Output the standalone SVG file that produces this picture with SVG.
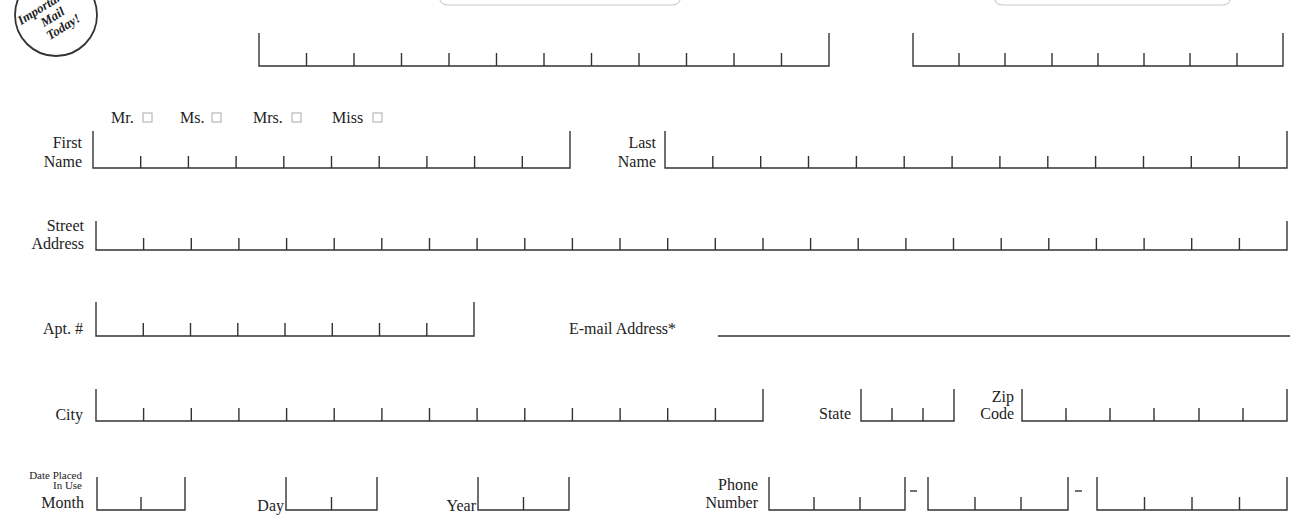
<svg xmlns="http://www.w3.org/2000/svg" width="1296" height="517" viewBox="0 0 1296 517">
<style>
.f{fill:none;stroke:#333;stroke-width:1.4}
.t{font-family:"Liberation Serif",serif;font-size:16px;fill:#222}
.s{font-family:"Liberation Serif",serif;font-size:11px;fill:#222}
.r{text-anchor:end}
.cb{fill:none;stroke:#aaa;stroke-width:1}
</style>
<rect width="1296" height="517" fill="#fff"/>
<g id="stamp">
<circle cx="56" cy="15" r="41" fill="#fff" stroke="#333" stroke-width="1.8"/>
<g transform="translate(52,20) rotate(-32)" font-family="Liberation Serif,serif" font-style="italic" font-weight="bold" font-size="13" text-anchor="middle" fill="#222">
<text x="-2" y="-12">Important</text><text x="2" y="2">Mail</text><text x="6" y="16">Today!</text>
</g>
</g>
<g id="tabs" fill="none" stroke="#ccc" stroke-width="1.2">
<path d="M440 0 Q441 5 448 5 L672 5 Q679 5 680 0"/>
<path d="M995 0 Q996 5 1003 5 L1222 5 Q1229 5 1230 0"/>
</g>
<g id="top1"><path class="f" d="M259 33V66H829V33M306.5 53V66M354 53V66M401.5 53V66M449 53V66M496.5 53V66M544 53V66M591.5 53V66M639 53V66M686.5 53V66M734 53V66M781.5 53V66"/></g>
<g id="top2"><path class="f" d="M913 33V66H1283V33M959 53V66M1005 53V66M1052 53V66M1098 53V66M1144 53V66M1190 53V66M1237 53V66"/></g>
<g id="title">
<text class="t" x="111" y="123" font-size="15">Mr.</text><rect class="cb" x="143" y="113" width="9" height="9"/>
<text class="t" x="180" y="123" font-size="15">Ms.</text><rect class="cb" x="212" y="113" width="9" height="9"/>
<text class="t" x="253" y="123" font-size="15">Mrs.</text><rect class="cb" x="292" y="113" width="9" height="9"/>
<text class="t" x="332" y="123" font-size="15">Miss</text><rect class="cb" x="373" y="113" width="9" height="9"/>
</g>
<g id="first"><text class="t r" x="82" y="148">First</text><text class="t r" x="82" y="167">Name</text>
<path class="f" d="M93 131V168H570V131M140.7 156V168M188.4 156V168M236.1 156V168M283.8 156V168M331.5 156V168M379.2 156V168M426.9 156V168M474.6 156V168M522.3 156V168"/></g>
<g id="last"><text class="t r" x="656" y="148">Last</text><text class="t r" x="656" y="167">Name</text>
<path class="f" d="M665 131V168H1287V131M712.8 156V168M760.7 156V168M808.5 156V168M856.4 156V168M904.2 156V168M952.1 156V168M999.9 156V168M1047.8 156V168M1095.6 156V168M1143.5 156V168M1191.3 156V168M1239.2 156V168"/></g>
<g id="street"><text class="t r" x="84" y="231">Street</text><text class="t r" x="84" y="249">Address</text>
<path class="f" d="M96 221V250H1287V221M143.6 238V250M191.3 238V250M238.9 238V250M286.6 238V250M334.2 238V250M381.8 238V250M429.5 238V250M477.1 238V250M524.8 238V250M572.4 238V250M620 238V250M667.7 238V250M715.3 238V250M763 238V250M810.6 238V250M858.2 238V250M905.9 238V250M953.5 238V250M1001.2 238V250M1048.8 238V250M1096.4 238V250M1144.1 238V250M1191.7 238V250M1239.4 238V250"/></g>
<g id="apt"><text class="t r" x="83" y="334">Apt. #</text>
<path class="f" d="M96 302V336H474V302M143.3 323V336M190.5 323V336M237.8 323V336M285 323V336M332.3 323V336M379.5 323V336M426.8 323V336"/></g>
<g id="email"><text class="t" x="569" y="334">E-mail Address*</text><path class="f" d="M718 336H1290"/></g>
<g id="city"><text class="t r" x="83" y="420">City</text>
<path class="f" d="M96 389V421H763V389M143.6 408V421M191.3 408V421M238.9 408V421M286.6 408V421M334.2 408V421M381.9 408V421M429.5 408V421M477.1 408V421M524.8 408V421M572.4 408V421M620.1 408V421M667.7 408V421M715.4 408V421"/></g>
<g id="state"><text class="t r" x="851" y="419">State</text>
<path class="f" d="M861 389V421H954V389M892 408V421M923 408V421"/></g>
<g id="zip"><text class="t r" x="1014" y="402">Zip</text><text class="t r" x="1014" y="419">Code</text>
<path class="f" d="M1022 389V421H1287V389M1066 408V421M1110 408V421M1154 408V421M1199 408V421M1243 408V421"/></g>
<g id="month"><text class="s r" x="82" y="479">Date Placed</text><text class="s r" x="82" y="489">In Use</text><text class="t r" x="84" y="508" font-size="17">Month</text>
<path class="f" d="M97 477V510H185V477M141 497V510"/></g>
<g id="day"><text class="t r" x="284" y="511">Day</text><path class="f" d="M286 477V510H377V477M331.5 497V510"/></g>
<g id="year"><text class="t r" x="476" y="511">Year</text><path class="f" d="M478 477V510H569V477M523.5 497V510"/></g>
<g id="phone"><text class="t r" x="758" y="490">Phone</text><text class="t r" x="758" y="508">Number</text>
<path class="f" d="M769 477V510H905V477M814 497V510M860 497V510"/>
<path class="f" d="M910 491H917"/>
<path class="f" d="M928 477V510H1068V477M975 497V510M1021 497V510"/>
<path class="f" d="M1075 491H1082"/>
<path class="f" d="M1097 477V510H1287V477M1144.5 497V510M1192 497V510M1239.5 497V510"/></g>
</svg>
